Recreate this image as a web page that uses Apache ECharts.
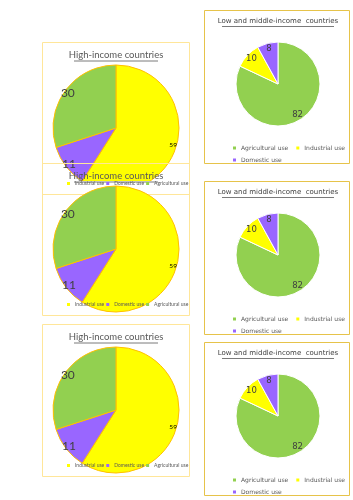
<!DOCTYPE html>
<html lang="en" style="height: 100%">
  <head>
    <meta charset="utf-8" />
  </head>
  <body style="height: 100%; margin: 0; background: #fff">
    <div id="container" style="width: 353px; height: 500px"></div>
    <script src="https://cdn.jsdelivr.net/npm/echarts@6/dist/echarts.min.js"></script>
    <script type="text/javascript">
      // high-income countries (left column, same chart pasted 3 times)
      const highTitle = "High-income countries";
      const highNames = ["Industrial use", "Domestic use", "Agricultural use"];
      const highValues = [59, 11, 30];

      // low and middle-income countries (right column)
      const lowTitle = "Low and middle-income  countries";
      const lowNames = ["Agricultural use", "Industrial use", "Domestic use"];
      const lowValues = [82, 10, 8];

      var colors = {
        "Industrial use": "#FFFF00",
        "Domestic use": "#9966FF",
        "Agricultural use": "#92D050",
      };

      var dom = document.getElementById("container");
      var myChart = echarts.init(dom, null, { renderer: "canvas" });

      // top edge of each box on the sheet
      var leftTops = [42, 163, 324];
      var rightTops = [10, 181, 342];

      var leftFont = "Lato";
      var rightFont = "'Comic Sans MS', 'DejaVu Sans'";

      var titles = [];
      var legends = [];
      var series = [];
      var graphics = [];

      function pieData(names, values, transparent) {
        return names.map(function (n, k) {
          return {
            name: n,
            value: values[k],
            itemStyle: { color: transparent ? "rgba(0,0,0,0)" : colors[n] },
          };
        });
      }

      function legendData(names) {
        return names.map(function (n) {
          return { name: n, itemStyle: { color: colors[n], borderWidth: 0 } };
        });
      }

      leftTops.forEach(function (top, i) {
        var cy = top + 86;
        var z = i === 1 ? 5 : 2;
        graphics.push({
          type: "rect",
          z: i === 1 ? 3 : 1,
          shape: { x: 42.5, y: top + 0.5, width: 147, height: 152 },
          style: { fill: "none", stroke: "#FFE699", lineWidth: 1 },
        });
        titles.push({
          text: highTitle,
          left: 116,
          top: top + 8,
          padding: 0,
          textAlign: "center",
          z: 6,
          textStyle: { fontFamily: leftFont, fontSize: 9.5, fontWeight: "normal", color: "#595959" },
        });
        graphics.push({
          type: "line",
          z: 6,
          shape: { x1: 74, y1: top + 19, x2: 158, y2: top + 19 },
          style: { stroke: "#595959", lineWidth: 0.8 },
        });
        legends.push({
          data: legendData(highNames),
          left: 67,
          top: top + 139,
          padding: 0,
          icon: "rect",
          itemWidth: 3,
          itemHeight: 3,
          itemGap: 2,
          z: 6,
          textStyle: { fontFamily: leftFont, fontSize: 5, color: "#595959" },
        });
        series.push({
          type: "pie",
          z: z,
          center: [116, cy],
          radius: 63,
          startAngle: 90,
          silent: true,
          animation: false,
          label: { show: false },
          labelLine: { show: false },
          itemStyle: { borderColor: "#FFC000", borderWidth: 1 },
          data: pieData(highNames, highValues, false),
        });
        // value labels near the rim
        series.push({
          type: "pie",
          z: z,
          center: [116, cy],
          radius: [50, 63],
          startAngle: 90,
          silent: true,
          animation: false,
          labelLine: { show: false },
          itemStyle: { borderWidth: 0 },
          label: {
            show: true,
            position: "inside",
            formatter: "{c}",
            fontFamily: leftFont,
          },
          data: pieData(highNames, highValues, true).map(function (d) {
            var small = d.name === "Industrial use";
            d.label = {
              fontSize: small ? 6.5 : 12,
              color: small ? "#000" : "#404040",
            };
            return d;
          }),
        });
      });

      // first chart's legend strip sits over its own pie bottom
      graphics.push({
        type: "rect",
        z: 4,
        shape: { x: 43, y: 181, width: 146, height: 12 },
        style: { fill: "#fff" },
      });

      rightTops.forEach(function (top, i) {
        var cy = top + 74;
        graphics.push({
          type: "rect",
          z: 1,
          shape: { x: 204.5, y: top + 0.5, width: 145, height: 153 },
          style: { fill: "none", stroke: "#E6C34A", lineWidth: 1 },
        });
        titles.push({
          text: lowTitle,
          left: 278,
          top: top + 8,
          padding: 0,
          textAlign: "center",
          z: 6,
          textStyle: { fontFamily: rightFont, fontSize: 7, fontWeight: "normal", color: "#404040" },
        });
        graphics.push({
          type: "line",
          z: 6,
          shape: { x1: 222, y1: top + 16.5, x2: 334, y2: top + 16.5 },
          style: { stroke: "#404040", lineWidth: 0.7 },
        });
        legends.push({
          data: legendData(lowNames.slice(0, 2)),
          left: 233,
          top: top + 135,
          width: 120,
          padding: 0,
          icon: "rect",
          itemWidth: 3,
          itemHeight: 3,
          itemGap: 8,
          z: 6,
          textStyle: { fontFamily: rightFont, fontSize: 6, color: "#595959" },
        });
        legends.push({
          data: legendData(lowNames.slice(2)),
          left: 233,
          top: top + 147,
          padding: 0,
          icon: "rect",
          itemWidth: 3,
          itemHeight: 3,
          z: 6,
          textStyle: { fontFamily: rightFont, fontSize: 6, color: "#595959" },
        });
        series.push({
          type: "pie",
          z: 2,
          center: [278, cy],
          radius: 42,
          startAngle: 90,
          silent: true,
          animation: false,
          label: { show: false },
          labelLine: { show: false },
          itemStyle: { borderColor: "#fff", borderWidth: 1 },
          data: pieData(lowNames, lowValues, false),
        });
        series.push({
          type: "pie",
          z: 2,
          center: [278, cy],
          radius: [25, 42],
          startAngle: 90,
          silent: true,
          animation: false,
          labelLine: { show: false },
          itemStyle: { borderWidth: 0 },
          label: {
            show: true,
            position: "inside",
            formatter: "{c}",
            fontFamily: rightFont,
            fontSize: 8.5,
            color: "#404040",
          },
          data: pieData(lowNames, lowValues, true),
        });
      });

      var option = {
        backgroundColor: "#fff",
        animation: false,
        title: titles,
        legend: legends,
        graphic: graphics,
        series: series,
      };
      myChart.setOption(option);
      window.addEventListener("resize", myChart.resize);
    </script>
  </body>
</html>
